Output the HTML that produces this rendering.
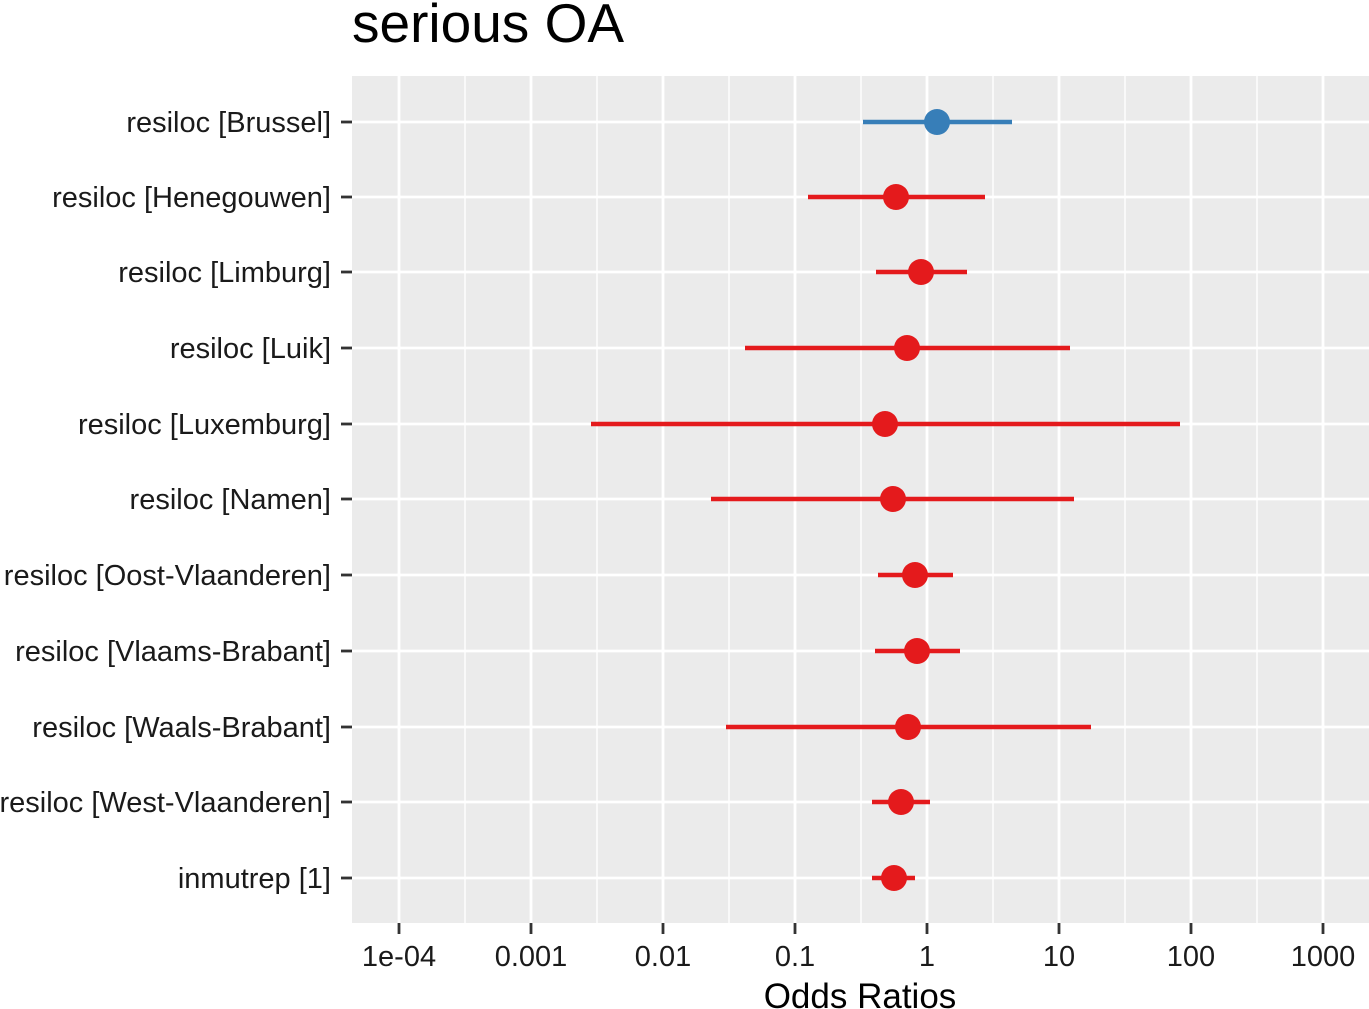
<!DOCTYPE html>
<html><head><meta charset="utf-8"><style>
html,body{margin:0;padding:0;background:#fff;}
svg{display:block;font-family:"Liberation Sans",sans-serif;}
</style></head><body>
<svg width="1369" height="1009" viewBox="0 0 1369 1009">
<text x="352" y="42" font-size="55" fill="#000">serious OA</text>
<rect x="352" y="76" width="1017" height="847" fill="#EBEBEB"/>
<g stroke="#fff" stroke-width="1.4">
<line x1="465" y1="76" x2="465" y2="923"/><line x1="597" y1="76" x2="597" y2="923"/>
<line x1="729" y1="76" x2="729" y2="923"/><line x1="861" y1="76" x2="861" y2="923"/>
<line x1="993" y1="76" x2="993" y2="923"/><line x1="1125" y1="76" x2="1125" y2="923"/>
<line x1="1257" y1="76" x2="1257" y2="923"/>
</g>
<g stroke="#fff" stroke-width="2.8">
<line x1="399" y1="76" x2="399" y2="923"/><line x1="531" y1="76" x2="531" y2="923"/>
<line x1="663" y1="76" x2="663" y2="923"/><line x1="795" y1="76" x2="795" y2="923"/>
<line x1="927" y1="76" x2="927" y2="923"/><line x1="1059" y1="76" x2="1059" y2="923"/>
<line x1="1191" y1="76" x2="1191" y2="923"/><line x1="1323" y1="76" x2="1323" y2="923"/>
<line x1="352" y1="122" x2="1369" y2="122"/><line x1="352" y1="197" x2="1369" y2="197"/>
<line x1="352" y1="272" x2="1369" y2="272"/><line x1="352" y1="348" x2="1369" y2="348"/>
<line x1="352" y1="424" x2="1369" y2="424"/><line x1="352" y1="499" x2="1369" y2="499"/>
<line x1="352" y1="575" x2="1369" y2="575"/><line x1="352" y1="651" x2="1369" y2="651"/>
<line x1="352" y1="727" x2="1369" y2="727"/><line x1="352" y1="802" x2="1369" y2="802"/>
<line x1="352" y1="878" x2="1369" y2="878"/>
</g>
<g stroke="#333" stroke-width="2.8">
<line x1="341" y1="122" x2="352" y2="122"/><line x1="341" y1="197" x2="352" y2="197"/>
<line x1="341" y1="272" x2="352" y2="272"/><line x1="341" y1="348" x2="352" y2="348"/>
<line x1="341" y1="424" x2="352" y2="424"/><line x1="341" y1="499" x2="352" y2="499"/>
<line x1="341" y1="575" x2="352" y2="575"/><line x1="341" y1="651" x2="352" y2="651"/>
<line x1="341" y1="727" x2="352" y2="727"/><line x1="341" y1="802" x2="352" y2="802"/>
<line x1="341" y1="878" x2="352" y2="878"/>
<line x1="399" y1="923" x2="399" y2="934"/><line x1="531" y1="923" x2="531" y2="934"/>
<line x1="663" y1="923" x2="663" y2="934"/><line x1="795" y1="923" x2="795" y2="934"/>
<line x1="927" y1="923" x2="927" y2="934"/><line x1="1059" y1="923" x2="1059" y2="934"/>
<line x1="1191" y1="923" x2="1191" y2="934"/><line x1="1323" y1="923" x2="1323" y2="934"/>
</g>
<g font-size="29" fill="#1a1a1a" text-anchor="end">
<text x="331" y="132">resiloc [Brussel]</text>
<text x="331" y="207">resiloc [Henegouwen]</text>
<text x="331" y="282">resiloc [Limburg]</text>
<text x="331" y="358">resiloc [Luik]</text>
<text x="331" y="434">resiloc [Luxemburg]</text>
<text x="331" y="509">resiloc [Namen]</text>
<text x="331" y="585">resiloc [Oost-Vlaanderen]</text>
<text x="331" y="661">resiloc [Vlaams-Brabant]</text>
<text x="331" y="737">resiloc [Waals-Brabant]</text>
<text x="331" y="812">resiloc [West-Vlaanderen]</text>
<text x="331" y="888">inmutrep [1]</text>
</g>
<g font-size="29" fill="#1a1a1a" text-anchor="middle">
<text x="399" y="966">1e-04</text><text x="531" y="966">0.001</text>
<text x="663" y="966">0.01</text><text x="795" y="966">0.1</text>
<text x="927" y="966">1</text><text x="1059" y="966">10</text>
<text x="1191" y="966">100</text><text x="1323" y="966">1000</text>
</g>
<text x="860" y="1008" font-size="35" text-anchor="middle" fill="#000">Odds Ratios</text>
<g stroke-width="4.5">
<line x1="863" y1="122" x2="1012" y2="122" stroke="#377EB8"/>
<g stroke="#E41A1C">
<line x1="808" y1="197" x2="985" y2="197"/>
<line x1="876" y1="272" x2="967" y2="272"/>
<line x1="745" y1="348" x2="1070" y2="348"/>
<line x1="591" y1="424" x2="1180" y2="424"/>
<line x1="711" y1="499" x2="1074" y2="499"/>
<line x1="878" y1="575" x2="953" y2="575"/>
<line x1="875" y1="651" x2="960" y2="651"/>
<line x1="726" y1="727" x2="1091" y2="727"/>
<line x1="872" y1="802" x2="930" y2="802"/>
<line x1="872" y1="878" x2="915" y2="878"/>
</g></g>
<circle cx="937" cy="122" r="13" fill="#377EB8"/>
<g fill="#E41A1C">
<circle cx="896" cy="197" r="13"/><circle cx="921" cy="272" r="13"/>
<circle cx="907" cy="348" r="13"/><circle cx="885" cy="424" r="13"/>
<circle cx="893" cy="499" r="13"/><circle cx="915" cy="575" r="13"/>
<circle cx="917" cy="651" r="13"/><circle cx="908" cy="727" r="13"/>
<circle cx="901" cy="802" r="13"/><circle cx="894" cy="878" r="13"/>
</g>
</svg>
</body></html>
